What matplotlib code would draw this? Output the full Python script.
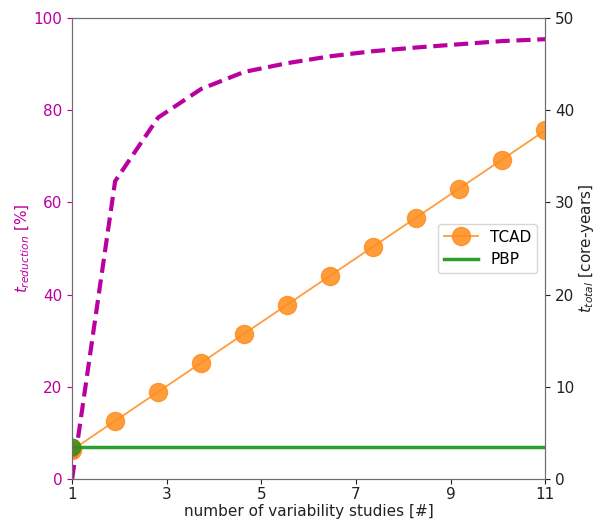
import numpy as np
import matplotlib.pyplot as plt

# number of variability studies (12 points between 1 and 11)
studies = [1.0, 1.909, 2.818, 3.727, 4.636, 5.545, 6.455, 7.364, 8.273, 9.182, 10.091, 11.0]
# total time [core-years]
tcad_total = [3.15, 6.3, 9.45, 12.6, 15.75, 18.9, 22.05, 25.2, 28.35, 31.5, 34.65, 37.8]
pbp_total = [3.5, 3.5, 3.5, 3.5, 3.5, 3.5, 3.5, 3.5, 3.5, 3.5, 3.5, 3.5]
# time reduction [%]
reduction = [0.0, 64.6, 78.4, 84.6, 88.3, 90.2, 91.7, 92.8, 93.6, 94.3, 95.0, 95.4]

mag = '#bb00a0'
spine_col = '#6e6e6e'
fs = 11

fig = plt.figure(figsize=(6.01, 5.22), dpi=100)
ax1 = fig.add_axes([0.12, 0.0824, 0.787, 0.8831])
ax2 = ax1.twinx()

ax1.plot(studies, reduction, '--', color=mag, lw=3, dashes=(3.4, 1.6))
ax1.set_xlim(1, 11)
ax1.set_ylim(0, 100)
ax1.set_xticks([1, 3, 5, 7, 9, 11])
ax1.set_yticks([0, 20, 40, 60, 80, 100])
ax1.set_ylabel('$t_{reduction}$ [%]', color=mag, fontsize=fs, labelpad=1)
ax1.set_xlabel('number of variability studies [#]', fontsize=fs, color='#222222', labelpad=1)
ax1.tick_params(axis='y', colors=mag, labelsize=fs)
ax1.tick_params(axis='x', labelsize=fs, colors='#222222', pad=2.5)

ax2.plot(studies, tcad_total, '-o', color='#ff8c1a', lw=1.3, ms=13, alpha=0.85, label='TCAD')
ax2.plot(studies, pbp_total, '-', color='#2ca02c', lw=2.5, label='PBP')
ax2.plot(studies[0], pbp_total[0], 'o', color='#3d8a1a', ms=12, alpha=0.85, clip_on=True)
ax2.set_ylim(0, 50)
ax2.set_yticks([0, 10, 20, 30, 40, 50])
ax2.set_ylabel('$t_{total}$ [core-years]', fontsize=fs, color='#222222', labelpad=2)
ax2.tick_params(axis='y', labelsize=fs, colors='#222222')
ax2.legend(loc='center right', fontsize=fs, handlelength=2.2)

for ax in (ax1, ax2):
    for s in ax.spines.values():
        s.set_color(spine_col)

fig.savefig('out.png', dpi=100)
